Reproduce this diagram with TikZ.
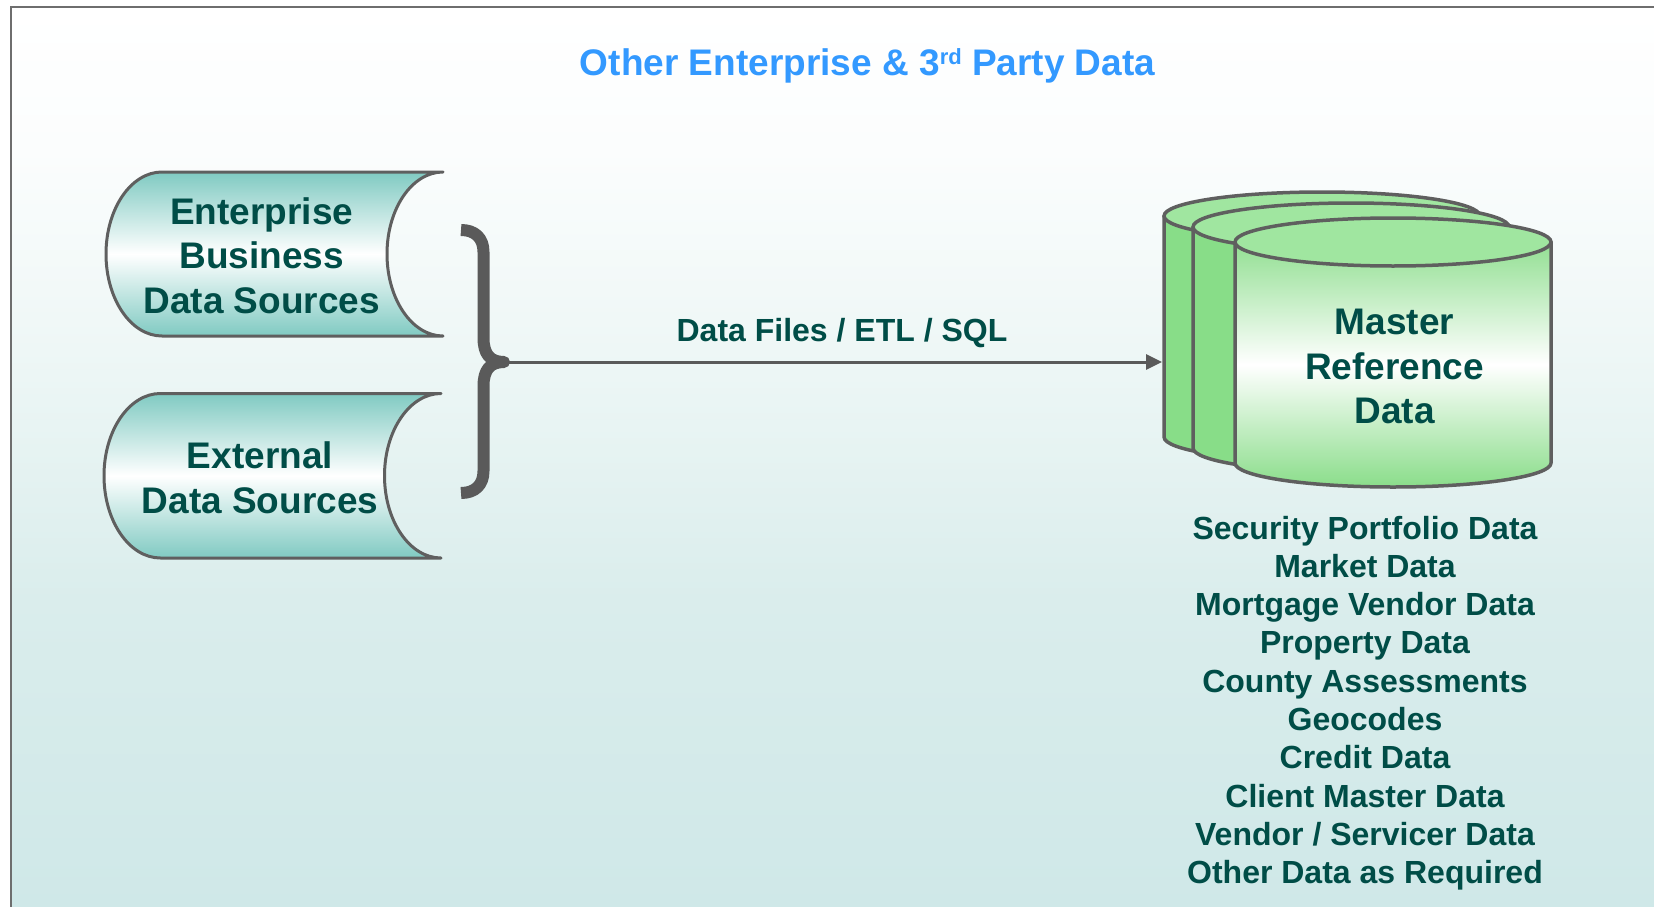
\documentclass[tikz,border=0pt]{standalone}
\usepackage{fontspec}
\setmainfont{Liberation Sans}
\usetikzlibrary{arrows.meta}
\definecolor{txt}{RGB}{0,77,71}
\definecolor{ttl}{RGB}{51,153,255}
\definecolor{lin}{RGB}{95,95,95}
\definecolor{brc}{RGB}{90,90,90}
\definecolor{framec}{RGB}{110,110,110}
\definecolor{teal1}{RGB}{128,202,194}
\definecolor{grnside}{RGB}{136,221,136}
\definecolor{grntop}{RGB}{160,230,160}
\definecolor{grnA}{RGB}{146,223,146}
\definecolor{grnB}{RGB}{138,221,138}
\definecolor{bgA}{RGB}{205,231,231}
\definecolor{bgB}{RGB}{207,232,232}
\definecolor{bgC}{RGB}{218,237,236}
\definecolor{bgD}{RGB}{238,247,246}
\definecolor{bgE}{RGB}{251,253,253}
\pgfdeclareverticalshading{bgshade}{100bp}{color(0bp)=(bgA); color(25bp)=(bgA); color(25.71bp)=(bgB); color(42.52bp)=(bgC); color(56.22bp)=(bgD); color(67.17bp)=(bgE); color(75bp)=(white); color(100bp)=(white)}
\newcommand{\myscroll}[6]{%
\path[#1] (#3,#5) .. controls ({#3-0.5523*(#3-#2)},#5) and (#2,{(#5+#6)/2-0.5523*(#6-#5)/2}) .. (#2,{(#5+#6)/2})
 .. controls (#2,{(#5+#6)/2+0.5523*(#6-#5)/2}) and ({#3-0.5523*(#3-#2)},#6) .. (#3,#6)
 -- (#4,#6) .. controls ({#4-0.5523*(#3-#2)},#6) and ({#4-(#3-#2)},{(#5+#6)/2+0.5523*(#6-#5)/2}) .. ({#4-(#3-#2)},{(#5+#6)/2})
 .. controls ({#4-(#3-#2)},{(#5+#6)/2-0.5523*(#6-#5)/2}) and ({#4-0.5523*(#3-#2)},#5) .. (#4,#5) -- cycle;}
\newcommand{\mycyl}[3]{%
\path[#1] ({#2-158},#3) -- ({#2-158},{#3+221}) .. controls ({#2-158},{#3+221+13.26}) and ({#2-87.26},{#3+245}) .. (#2,{#3+245})
 .. controls ({#2+87.26},{#3+245}) and ({#2+158},{#3+221+13.26}) .. ({#2+158},{#3+221}) -- ({#2+158},#3) -- cycle;
\path[cyltop] (#2,#3) ellipse [x radius=158pt, y radius=24pt];}
\begin{document}
\begin{tikzpicture}[x=1pt,y=-1pt,
  scrollbox/.style={draw=lin, line width=3pt, line join=round, top color=teal1, bottom color=teal1, middle color=white},
  cylback/.style={draw=lin, line width=3.5pt, line join=round, fill=grnside},
  cylfront/.style={draw=lin, line width=3.5pt, line join=round, top color=grnA, bottom color=grnB, middle color=white},
  cyltop/.style={draw=lin, line width=3.5pt, fill=grntop},
  bigtext/.style={text=txt, font=\fontsize{37}{44.5}\selectfont\bfseries, inner sep=0pt, anchor=base},
  listtext/.style={text=txt, font=\fontsize{32}{38.3}\selectfont\bfseries, inner sep=0pt, anchor=base},
  titletext/.style={text=ttl, font=\fontsize{37}{44}\selectfont\bfseries, inner sep=0pt, anchor=base},
  bracestyle/.style={draw=brc, line width=12pt, line join=round, line cap=butt},
  conn/.style={draw=brc, line width=3pt, -{Triangle[length=16pt,width=15pt]}}]
\useasboundingbox (0,0) rectangle (1654,907);
\clip (0,0) rectangle (1654,907);
\fill[white] (0,0) rectangle (1654,907);
\shade[shading=bgshade] (11,7) rectangle (1700,920);
\draw[framec, line width=2pt] (11,7) rectangle (1700,920);
% title
\node[titletext] (title) at (867.5,76) {Other Enterprise \& 3\raisebox{11pt}{\fontsize{22}{22}\selectfont rd} Party Data};
% source scrolls
\myscroll{scrollbox}{106}{162}{443}{172}{336}
\myscroll{scrollbox}{104}{160.5}{441}{393.5}{558}
\node[bigtext] (ent) at (261.7,224) {\begin{tabular}[t]{@{}c@{}}Enterprise\\Business\\Data Sources\end{tabular}};
\node[bigtext] (ext) at (260,468.5) {\begin{tabular}[t]{@{}c@{}}External\\Data Sources\end{tabular}};
% brace
\path[bracestyle] (461,230) .. controls (475,230) and (483.5,238) .. (483.5,252) -- (483.5,338)
  .. controls (483.5,354) and (490,362) .. (504,362)
  .. controls (490,362) and (483.5,370) .. (483.5,386) -- (483.5,471)
  .. controls (483.5,485) and (475,493) .. (461,493);
\coordinate (tip) at (504,362);
\coordinate (dbin) at (1162,362);
\draw[conn] (tip) -- (dbin);
\node[listtext] (lbl) at (842,341) {Data Files / ETL / SQL};
% database cylinders
\mycyl{cylback}{1322}{216}
\mycyl{cylback}{1351}{227}
\mycyl{cylfront}{1393}{242}
\node[bigtext] (mrd) at (1394.5,334.5) {\begin{tabular}[t]{@{}c@{}}Master\\Reference\\Data\end{tabular}};
\node[listtext] (list) at (1365,539) {\begin{tabular}[t]{@{}c@{}}Security Portfolio Data\\Market Data\\Mortgage Vendor Data\\Property Data\\County Assessments\\Geocodes\\Credit Data\\Client Master Data\\Vendor / Servicer Data\\Other Data as Required\end{tabular}};
\end{tikzpicture}
\end{document}
